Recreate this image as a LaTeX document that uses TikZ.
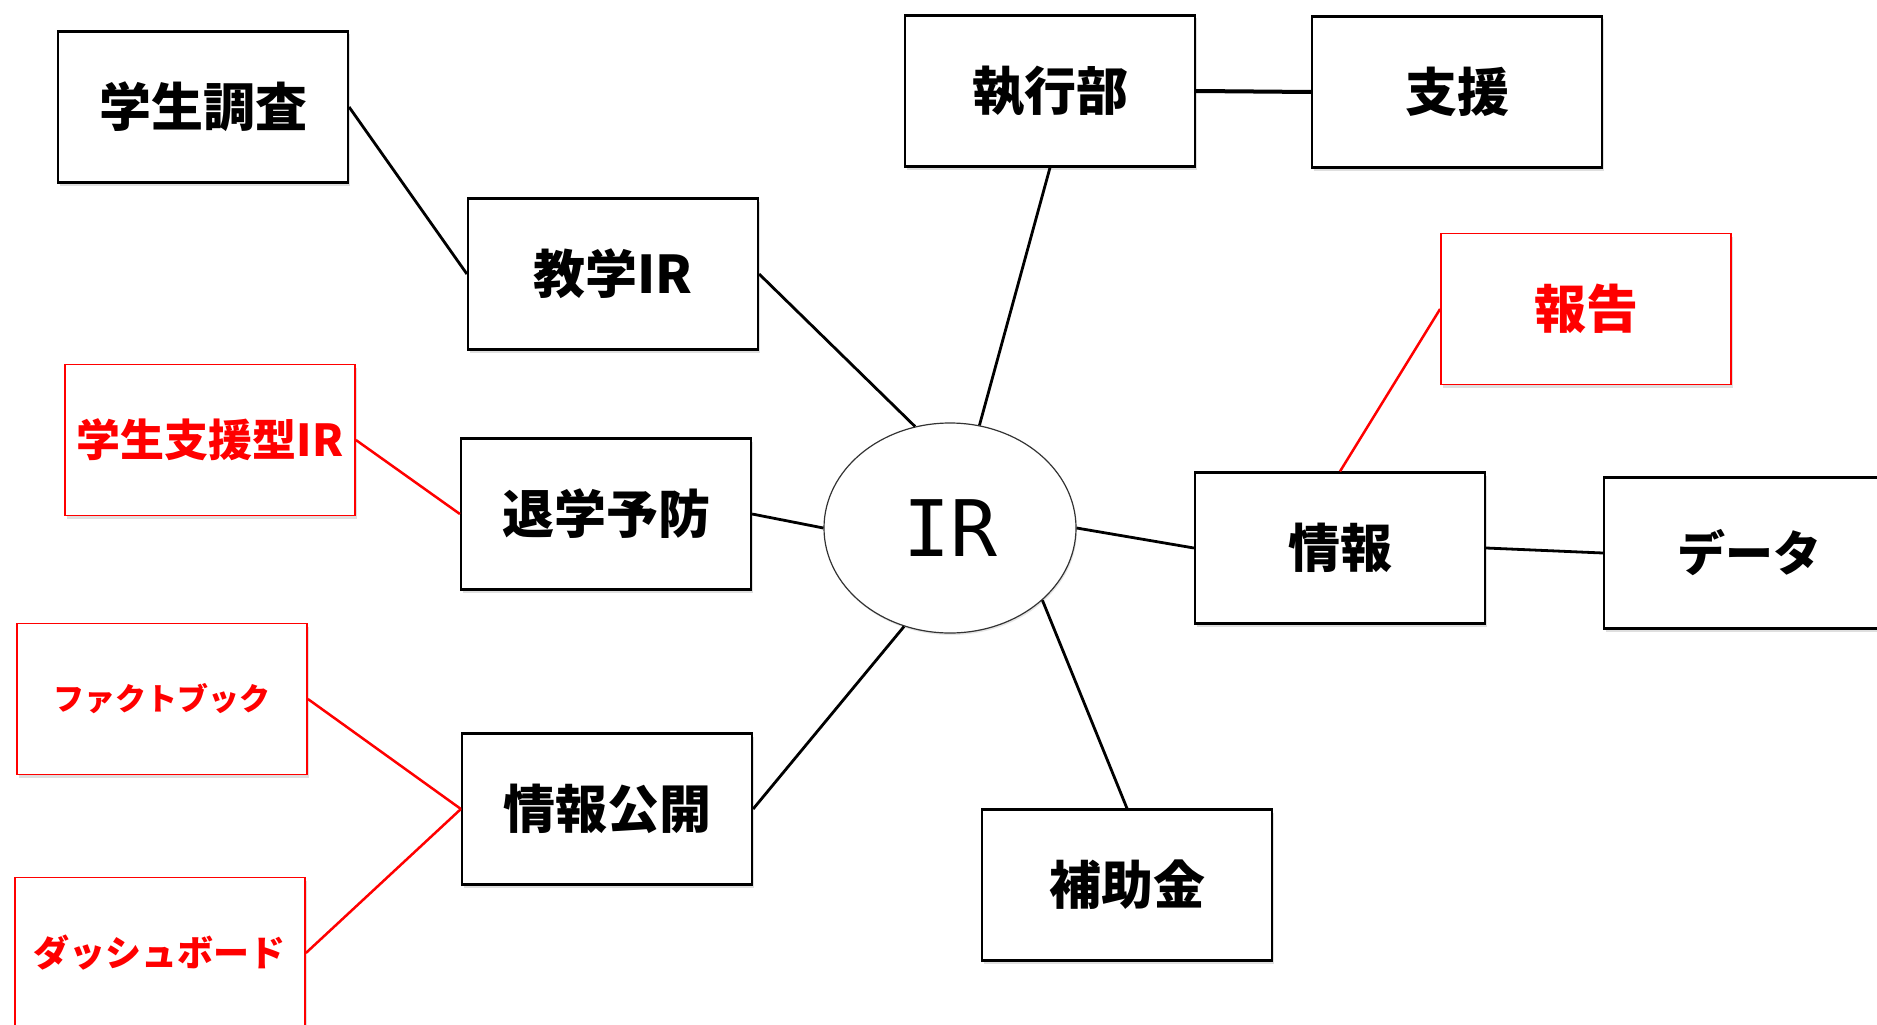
\documentclass[tikz,border=0pt]{standalone}
\usepackage{fontspec}
\newfontfamily\jp{Noto Sans CJK JP}
\newfontfamily\irfont{DejaVu Sans Mono}
\usetikzlibrary{shapes.geometric,shadows}
\tikzset{
  box/.style={draw=black, line width=2.2pt, fill=white, minimum width=290pt, minimum height=151pt,
    inner sep=0pt, font=\jp\bfseries\fontsize{52}{60}\selectfont,
    drop shadow={opacity=0.25, shadow xshift=1.5pt, shadow yshift=-3pt}},
  redbox/.style={box, draw=red, line width=1.8pt, text=red},
  link/.style={draw=black, line width=2.8pt},
  redlink/.style={draw=red, line width=2.5pt},
}
\begin{document}
\begin{tikzpicture}[x=1pt,y=-1pt]
\useasboundingbox (0,0) rectangle (1877,1025);
\clip (0,0) rectangle (1877,1025);
\fill[white] (0,0) rectangle (1877,1025);

\node[box] (gakusei) at (203,107) {学生調査};
\node[box] (kyogaku) at (613,274) {教学IR};
\node[redbox, font=\jp\bfseries\fontsize{44}{50}\selectfont] (shienir) at (210,440) {学生支援型IR};
\node[box] (taigaku) at (606,514) {退学予防};
\node[redbox, font=\jp\bfseries\fontsize{31}{40}\selectfont] (fact) at (162,699) {ファクトブック};
\node[box] (kokai) at (607,809) {情報公開};
\node[redbox, font=\jp\bfseries\fontsize{36}{44}\selectfont] (dash) at (160,953) {ダッシュボード};
\node[box] (shikko) at (1050,91) {執行部};
\node[box] (shien) at (1457,92) {支援};
\node[redbox] (hokoku) at (1586,309) {報告};
\node[box] (joho) at (1340,548) {情報};
\node[box, font=\jp\bfseries\fontsize{48}{56}\selectfont] (data) at (1749,553) {データ};
\node[box] (hojo) at (1127,885) {補助金};
\node[ellipse, draw=black!80, line width=1.2pt, fill=white, minimum width=252pt, minimum height=210pt,
  inner sep=0pt, font=\irfont\fontsize{78}{84}\selectfont,
  drop shadow={opacity=0.2, shadow xshift=1pt, shadow yshift=-2pt}] (IR) at (950,528) {IR};

\draw[link] (gakusei.east) -- (kyogaku.west);
\draw[link] (kyogaku.east) -- (IR.109);
\draw[link] (shikko.south) -- (IR.74);
\draw[link, line width=4pt] (shikko.east) -- (shien.west);
\draw[link] (taigaku.east) -- (IR.west);
\draw[link] (kokai.east) -- (IR.245);
\draw[link] (IR.east) -- (joho.west);
\draw[link] (joho.east) -- (data.west);
\draw[link] (IR.-38) -- (hojo.north);
\draw[redlink] (shienir.east) -- (taigaku.west);
\draw[redlink] (hokoku.west) -- (joho.north);
\draw[redlink] (fact.east) -- (kokai.west);
\draw[redlink] (dash.east) -- (kokai.west);
\end{tikzpicture}
\end{document}
